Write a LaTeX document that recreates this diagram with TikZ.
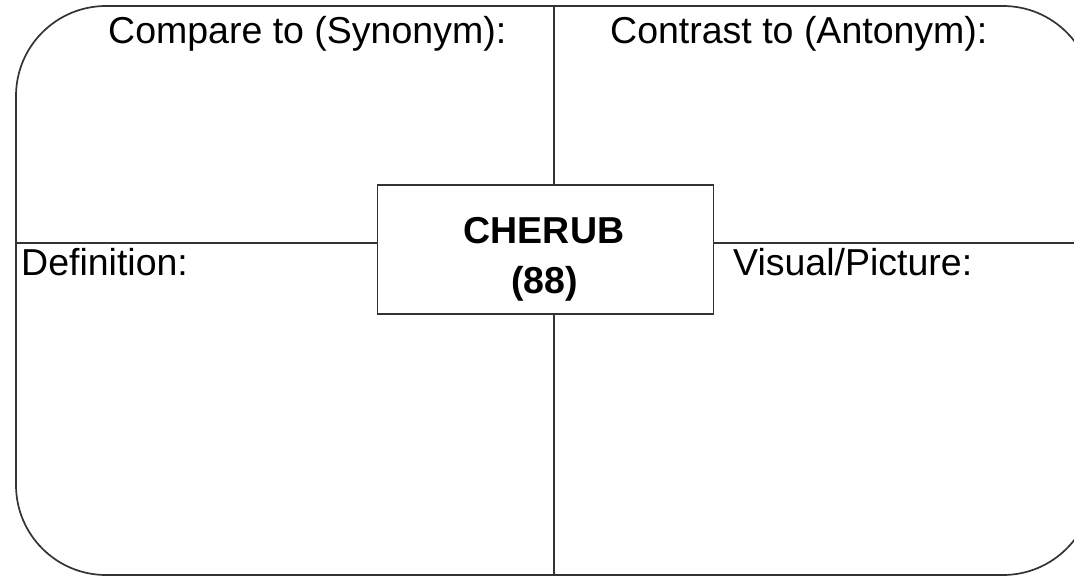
\documentclass[tikz,border=0pt]{standalone}
\usepackage{fontspec}
\setmainfont{Liberation Sans}
\begin{document}
\begin{tikzpicture}[x=1pt,y=-1pt,
  frame/.style={draw=black!80, line width=1.7pt},
  label/.style={anchor=base west, inner sep=0pt, font=\fontsize{37.5}{44}\selectfont},
  word/.style={anchor=base, inner sep=0pt, font=\fontsize{37.5}{44}\selectfont\bfseries}]
\useasboundingbox (0,0) rectangle (1074,577);
\clip (0,0) rectangle (1074,577);
% outer rounded frame (its right side runs past the page edge)
\draw[frame, rounded corners=90pt] (16,6) rectangle (1093,575);
% central word box
\node[frame, minimum width=336pt, minimum height=129pt, inner sep=0pt] (box) at (545.5,249.5) {};
\node[word] (w1) at (544,244) {CHERUB};
\node[word] (w2) at (544.5,294) {(88)};
% dividing lines
\coordinate (vtop) at (554,6);
\coordinate (vbot) at (554,575);
\coordinate (hleft) at (16,243);
\coordinate (hright) at (1093,243);
\draw[frame] (vtop) -- (vtop |- box.north);
\draw[frame] (vtop |- box.south) -- (vbot);
\draw[frame] (hleft) -- (hleft -| box.west);
\draw[frame] (hright -| box.east) -- (hright);
% quadrant headings
\node[label] (syn) at (108,44) {Compare to (Synonym):};
\node[label] (ant) at (610,44) {Contrast to (Antonym):};
\node[label] (def) at (21,276) {Definition:};
\node[label] (vis) at (733,276) {Visual/Picture:};
\end{tikzpicture}
\end{document}
